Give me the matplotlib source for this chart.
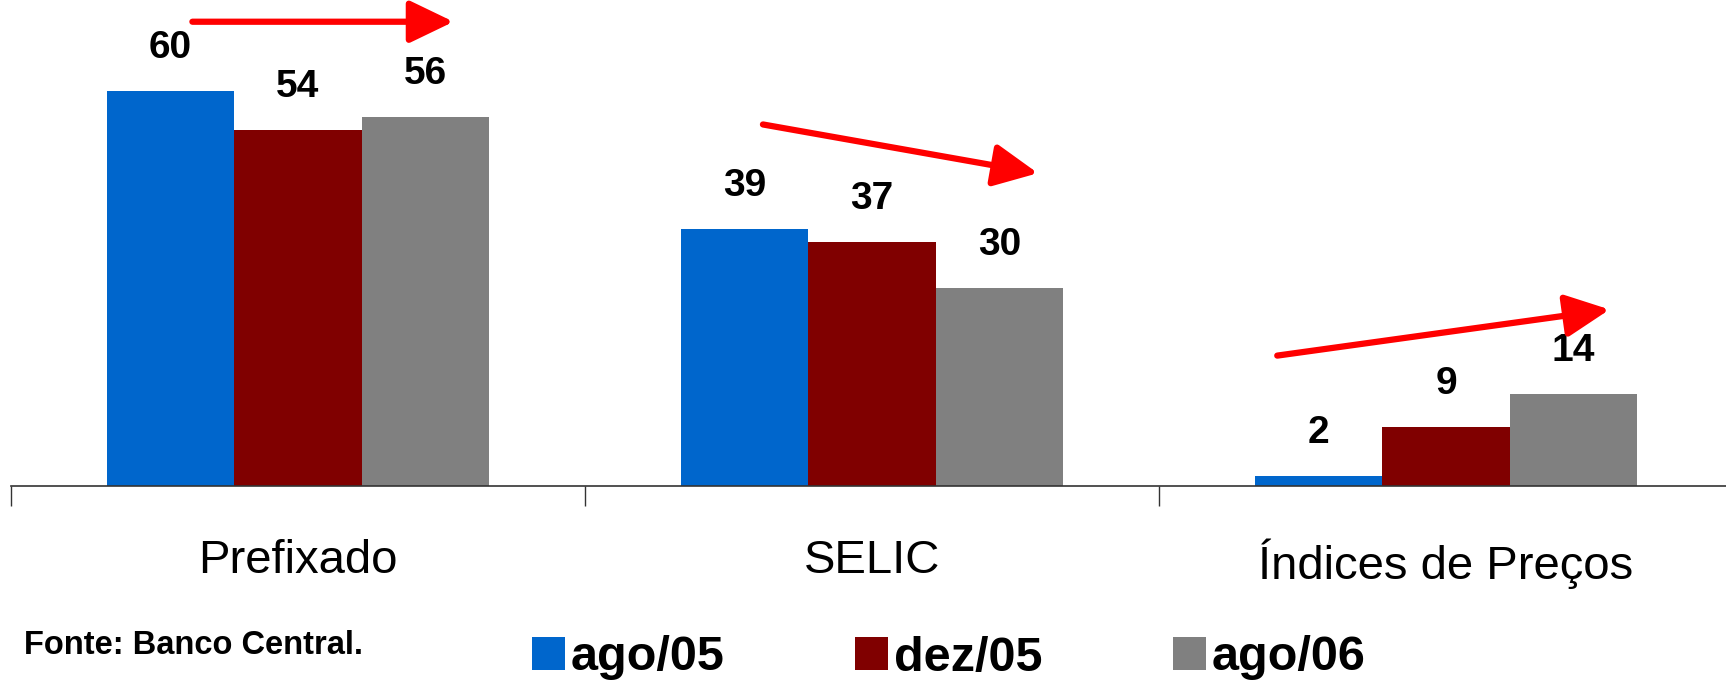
import numpy as np
import matplotlib
matplotlib.use('Agg')
import matplotlib.pyplot as plt
from matplotlib.patches import Patch

# data (percent of federal debt by index)
categories = ['Prefixado', 'SELIC', 'Índices de Preços']
series_names = ['ago/05', 'dez/05', 'ago/06']
ago05 = [60, 39, 1.5]
dez05 = [54, 37, 9]
ago06 = [56, 30, 14]
colors = ['#0066CC', '#800000', '#808080']

plt.rcParams['font.family'] = ['Liberation Sans', 'DejaVu Sans']

W, H = 1726, 680
fig = plt.figure(figsize=(W / 100, H / 100), dpi=100, facecolor='w')
ax = fig.add_axes([11 / W, 194 / H, 1722 / W, 486 / H])

x = np.arange(len(categories))
bw = 0.222
for i, (vals, name) in enumerate(zip([ago05, dez05, ago06], series_names)):
    pos = x + (i - 1) * bw
    ax.bar(pos, vals, width=bw, color=colors[i], label=name, edgecolor='none')
    for px, v in zip(pos, vals):
        ax.annotate('%.0f' % v, (px, v), xytext=(0, 31), textcoords='offset points',
                    ha='center', va='center', fontsize=28, fontweight='bold')

ax.set_xlim(-0.5, 2.5)
ax.set_ylim(0, 73.8)

# trend arrows
arrows = [((-0.184, 70.5), (0.271, 70.5)),
          ((0.81, 54.9), (1.289, 47.5)),
          ((1.706, 19.8), (2.285, 26.8))]
for start, end in arrows:
    ax.annotate('', xy=end, xytext=start,
                arrowprops=dict(arrowstyle='-|>,head_length=1.35,head_width=0.65',
                                color='red', lw=4.5, mutation_scale=20,
                                shrinkA=0, shrinkB=0))

# axes styling
for s in ['top', 'right', 'left']:
    ax.spines[s].set_visible(False)
ax.spines['bottom'].set_color('#333333')
ax.spines['bottom'].set_linewidth(1.2)
ax.set_yticks([])
ax.set_xticks(x)
ax.set_xticklabels(categories, fontsize=34)
ax.tick_params(axis='x', which='major', length=0, pad=38)
ax.set_xticks(np.arange(-0.5, 3.0, 1.0), minor=True)
ax.tick_params(axis='x', which='minor', length=14.4, width=1, color='#333333')

fig.text(24 / W, 1 - 645 / H, 'Fonte: Banco Central.', fontsize=23.5,
         fontweight='bold', va='center', ha='left')

handles = [Patch(facecolor=c, edgecolor='none') for c in colors]
fig.legend(handles, series_names, loc='center left',
           bbox_to_anchor=(532 / W, 1 - 658 / H), ncol=3, frameon=False,
           prop={'size': 35, 'weight': 'bold'}, handlelength=0.68, handleheight=0.68,
           handletextpad=0.12, columnspacing=2.68, borderpad=0, borderaxespad=0)

fig.savefig('out.png', dpi=100, facecolor='w')
